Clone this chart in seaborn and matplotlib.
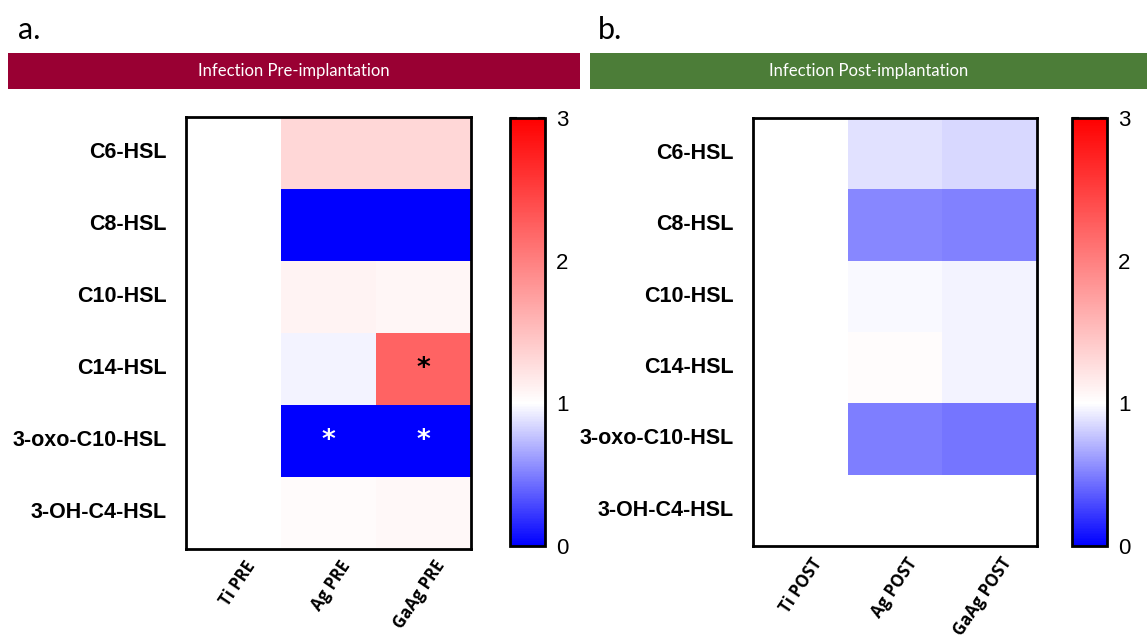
import matplotlib
matplotlib.use('Agg')
import matplotlib.pyplot as plt
from matplotlib.colors import LinearSegmentedColormap
from matplotlib.patches import Rectangle
from matplotlib.transforms import ScaledTranslation
import seaborn as sns
import numpy as np
import pandas as pd

# values (fold change vs Ti)
rows = ['C6-HSL', 'C8-HSL', 'C10-HSL', 'C14-HSL', '3-oxo-C10-HSL', '3-OH-C4-HSL']
pre_cols = ['Ti PRE', 'Ag PRE', 'GaAg PRE']
post_cols = ['Ti POST', 'Ag POST', 'GaAg POST']

ti_pre = [1.0, 1.0, 1.0, 1.0, 1.0, 1.0]
ag_pre = [1.32, 0.0, 1.10, 0.95, 0.0, 1.04]
gaag_pre = [1.32, 0.0, 1.07, 2.22, 0.0, 1.06]

ti_post = [1.0, 1.0, 1.0, 1.0, 1.0, 1.0]
ag_post = [0.89, 0.53, 0.98, 1.02, 0.50, 1.00]
gaag_post = [0.85, 0.51, 0.95, 0.96, 0.46, 1.00]

# significance marks
sig_pre_ag = ['', '', '', '', '*', '']
sig_pre_gaag = ['', '', '', '*', '*', '']
sig_post_ag = [''] * 6
sig_post_gaag = [''] * 6

cmap = LinearSegmentedColormap.from_list(
    'bwr_fc', [(0, '#0000ff'), (1 / 3, '#ffffff'), (1, '#ff0000')])

sns.set_style('white')
plt.rcParams.update({'text.color': 'black', 'xtick.color': 'black',
                     'ytick.color': 'black', 'axes.labelcolor': 'black'})

W, H = 1147, 643
fig = plt.figure(figsize=(W / 100, H / 100), dpi=100)


def px(x0, y0, x1, y1):
    return [x0 / W, 1 - y1 / H, (x1 - x0) / W, (y1 - y0) / H]


def draw_panel(values, cols, sig, hm_box, cb_box):
    df = pd.DataFrame(np.array(values).T, index=rows, columns=cols)
    annot = np.array(sig).T
    ax = fig.add_axes(px(*hm_box))
    cax = fig.add_axes(px(*cb_box))
    sns.heatmap(df, ax=ax, cbar_ax=cax, cmap=cmap, vmin=0, vmax=3,
                annot=annot, fmt='',
                annot_kws={'fontsize': 19, 'fontweight': 'bold'},
                cbar_kws={'ticks': [0, 1, 2, 3]})
    for t, v in zip(ax.texts, df.values.flatten()):
        t.set_color('white' if v < 0.5 else 'black')
        t.set_va('center')
    for s in ax.spines.values():
        s.set_visible(True)
        s.set_linewidth(2)
        s.set_color('black')
    ax.tick_params(axis='y', length=0, pad=14)
    ax.tick_params(axis='x', length=0, pad=4)
    ax.set_yticklabels(rows, rotation=0, fontsize=15.5, fontweight='bold',
                       family='Liberation Sans')
    ax.set_xticklabels(cols, rotation=56, ha='right', rotation_mode='anchor',
                       va='center', fontsize=12, fontweight='bold',
                       family='Open Sans')
    shift = ScaledTranslation(18 / 100, -8 / 100, fig.dpi_scale_trans)
    for lab in ax.get_xticklabels():
        lab.set_transform(lab.get_transform() + shift)

    cax.tick_params(direction='in', length=5, width=1.5, left=True, right=True,
                    labelsize=16, pad=8)
    for lab in cax.get_yticklabels():
        lab.set_family('Liberation Sans')
    cb = ax.collections[0].colorbar
    cb.outline.set_linewidth(2)
    cb.outline.set_edgecolor('black')
    return ax


draw_panel([ti_pre, ag_pre, gaag_pre], pre_cols,
           [[''] * 6, sig_pre_ag, sig_pre_gaag],
           (186, 117, 471, 549), (510, 118, 545, 546))
draw_panel([ti_post, ag_post, gaag_post], post_cols,
           [[''] * 6, sig_post_ag, sig_post_gaag],
           (753, 118, 1037, 546), (1072, 118, 1107, 546))

# banners
for (x0, x1, col, txt) in [(8, 580, '#990033', 'Infection Pre-implantation'),
                           (590, 1147, '#4c7d38', 'Infection Post-implantation')]:
    fig.add_artist(Rectangle((x0 / W, 1 - 89 / H), (x1 - x0) / W, 36 / H,
                             transform=fig.transFigure, facecolor=col,
                             edgecolor='none'))
    fig.text((x0 + x1) / 2 / W, 1 - 71 / H, txt, color='white', fontsize=12,
             ha='center', va='center', family='Lato')

fig.text(18 / W, 1 - 30 / H, 'a.', fontsize=22, va='center', family='Lato')
fig.text(598 / W, 1 - 30 / H, 'b.', fontsize=22, va='center', family='Lato')

fig.savefig('out.png', dpi=100)
